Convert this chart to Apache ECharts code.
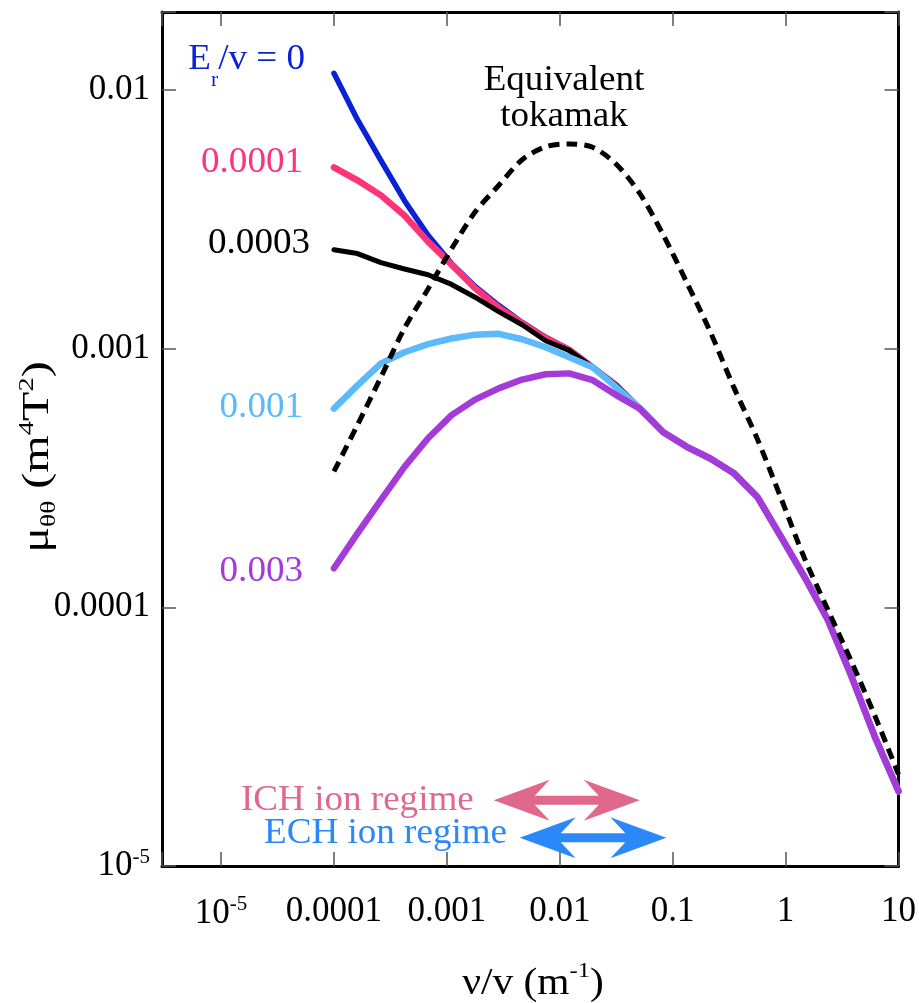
<!DOCTYPE html>
<html><head><meta charset="utf-8">
<script src="https://cdn.jsdelivr.net/npm/echarts@6/dist/echarts.min.js"></script>
<style>html,body{margin:0;padding:0;background:#fff}#c{width:919px;height:1003px}</style>
</head><body><div id="c"></div>
<script>
// collision frequency over speed, nu/v (m^-1)
const nu = [1e-4, 1.616e-4, 2.610e-4, 4.217e-4, 6.813e-4, 1.101e-3, 1.778e-3, 2.873e-3, 4.642e-3, 7.499e-3,
  0.01212, 0.01957, 0.03162, 0.05109, 0.08254, 0.1334, 0.2154, 0.3481, 0.5623, 0.9085,
  1.468, 2.371, 3.831, 6.190, 10];
// mu_thetatheta (m^4 T^2) for each E_r/v
const muEr0 = [1.159e-2, 7.67e-3, 5.33e-3, 3.73e-3, 2.74e-3, 2.13e-3, 1.74e-3, 1.47e-3, 1.262e-3, 1.106e-3,
  9.93e-4, 8.47e-4, 7.21e-4, 5.86e-4, 4.75e-4, 4.17e-4, 3.76e-4, 3.30e-4, 2.67e-4, 1.875e-4,
  1.312e-4, 8.93e-5, 5.41e-5, 3.15e-5, 1.945e-5];
const muEr00001 = [5.02e-3, 4.47e-3, 3.91e-3, 3.27e-3, 2.59e-3, 2.11e-3, 1.71e-3, 1.44e-3, 1.253e-3, 1.096e-3,
  9.89e-4, 8.47e-4, 7.21e-4, 5.86e-4, 4.75e-4, 4.17e-4, 3.76e-4, 3.30e-4, 2.67e-4, 1.875e-4,
  1.312e-4, 8.93e-5, 5.41e-5, 3.15e-5, 1.945e-5];
const muEr00003 = [2.41e-3, 2.33e-3, 2.15e-3, 2.03e-3, 1.93e-3, 1.77e-3, 1.58e-3, 1.39e-3, 1.236e-3, 1.072e-3,
  9.84e-4, 8.47e-4, 7.21e-4, 5.86e-4, 4.75e-4, 4.17e-4, 3.76e-4, 3.30e-4, 2.67e-4, 1.875e-4,
  1.312e-4, 8.93e-5, 5.41e-5, 3.15e-5, 1.945e-5];
const muEr0001 = [5.86e-4, 7.21e-4, 8.77e-4, 9.68e-4, 1.04e-3, 1.094e-3, 1.132e-3, 1.14e-3, 1.087e-3, 1.012e-3,
  9.26e-4, 8.47e-4, 7.10e-4, 5.89e-4, 4.75e-4, 4.17e-4, 3.76e-4, 3.30e-4, 2.67e-4, 1.875e-4,
  1.312e-4, 8.93e-5, 5.41e-5, 3.15e-5, 1.945e-5];
const muEr0003 = [1.416e-4, 1.93e-4, 2.60e-4, 3.49e-4, 4.50e-4, 5.53e-4, 6.35e-4, 7.02e-4, 7.59e-4, 7.96e-4,
  8.02e-4, 7.55e-4, 6.61e-4, 5.86e-4, 4.75e-4, 4.17e-4, 3.76e-4, 3.30e-4, 2.67e-4, 1.875e-4,
  1.312e-4, 8.93e-5, 5.41e-5, 3.15e-5, 1.945e-5];
const muTokamak = [3.35e-4, 5.07e-4, 7.76e-4, 1.20e-3, 1.70e-3, 2.43e-3, 3.37e-3, 4.27e-3, 5.37e-3, 6.03e-3,
  6.18e-3, 6.00e-3, 5.16e-3, 3.98e-3, 2.75e-3, 1.80e-3, 1.16e-3, 7.08e-4, 4.47e-4, 2.65e-4,
  1.55e-4, 9.77e-5, 6.17e-5, 3.80e-5, 2.26e-5];
// heating regimes: arrow tip positions in nu/v, and their heights
const ichRange = [2.60e-3, 5.11e-2];
const ichLevel = 1.795e-5;
const echRange = [4.42e-3, 8.79e-2];
const echLevel = 1.285e-5;
// tick labels (by decade exponent)
const xTickLabels = {'-5': '{b|10}{s|-5}', '-4': '0.0001', '-3': '0.001', '-2': '0.01', '-1': '0.1', '0': '1', '1': '10'};
const yTickLabels = {'-5': '{b|10}{s|-5}', '-4': '0.0001', '-3': '0.001', '-2': '0.01'};

const FONT = "'Liberation Serif','Times New Roman',serif";
const FS = 35;
const LFS = 36;
const supRich = {
  b: {fontFamily: FONT, fontSize: FS, color: '#000'},
  s: {fontFamily: FONT, fontSize: 21, color: '#000', verticalAlign: 'top', padding: [0, 0, 18, 0]}
};
function decadeFmt(map) {
  return function (v) {
    const l = Math.log10(v), r = Math.round(l);
    if (Math.abs(l - r) > 1e-6) return '';
    return map[String(r)] || '';
  };
}
const pair = arr => nu.map((x, i) => [x, arr[i]]);

const chart = echarts.init(document.getElementById('c'), null, {renderer: 'canvas'});
const tickStyle = {show: true, inside: true, length: 14, lineStyle: {color: '#555', width: 1.5}};
const axLine = {show: true, lineStyle: {color: '#000', width: 3}};
const xCommon = {type: 'log', logBase: 10, min: 3e-6, max: 10, splitLine: {show: false}, axisLine: axLine, axisTick: tickStyle};
const yCommon = {type: 'log', logBase: 10, min: 1e-5, max: 0.02, splitLine: {show: false}, axisLine: axLine, axisTick: tickStyle};

function lineSeries(name, arr, color, width, extra) {
  return Object.assign({
    name, type: 'line', data: pair(arr), showSymbol: false, symbol: 'none',
    lineStyle: {color, width, cap: 'round', join: 'round'}, itemStyle: {color},
    emphasis: {disabled: true}, silent: true, clip: true
  }, extra || {});
}

// double-headed arrow spanning [x0, x1] at height y, positioned through the axes
function arrowSeries(name, range, level, color) {
  return {
    name, type: 'custom', silent: true, clip: false, z: 5,
    encode: {x: [0, 1], y: 2},
    data: [[range[0], range[1], level]],
    renderItem: function (params, api) {
      const p0 = api.coord([api.value(0), api.value(2)]);
      const p1 = api.coord([api.value(1), api.value(2)]);
      const y = p0[1], a = p0[0], b = p1[0];
      const L = 56, W = 20.5, N = 41, S = 4.5;
      const pts = [[a, y], [a + L, y - W], [a + N, y - S], [b - N, y - S], [b - L, y - W], [b, y],
                   [b - L, y + W], [b - N, y + S], [a + N, y + S], [a + L, y + W]];
      return {type: 'polygon', shape: {points: pts}, style: {fill: color}};
    }
  };
}

function label(text, x, y, color, align) {
  return {type: 'text', x, y, scaleX: 1.03, style: {text, align: align || 'right', verticalAlign: 'middle',
    fontFamily: FONT, fontSize: LFS, fill: color}};
}

const option = {
  animation: false,
  backgroundColor: '#fff',
  grid: {left: 162, top: 12, width: 738, height: 854, containLabel: false},
  xAxis: [
    Object.assign({}, xCommon, {position: 'bottom',
      axisLabel: {margin: 28, fontFamily: FONT, fontSize: FS, color: '#000', formatter: decadeFmt(xTickLabels), rich: supRich}}),
    Object.assign({}, xCommon, {position: 'top', axisLabel: {show: false}})
  ],
  yAxis: [
    Object.assign({}, yCommon, {position: 'left',
      axisLabel: {margin: 12, fontFamily: FONT, fontSize: FS, color: '#000', formatter: decadeFmt(yTickLabels), rich: supRich}}),
    Object.assign({}, yCommon, {position: 'right', axisLabel: {show: false}})
  ],
  series: [
    lineSeries('E_r/v = 0', muEr0, '#0a22d6', 5.5),
    lineSeries('0.0001', muEr00001, '#fd3477', 6.5),
    lineSeries('0.0003', muEr00003, '#000000', 5),
    lineSeries('0.001', muEr0001, '#5cbafc', 6.5),
    lineSeries('0.003', muEr0003, '#a43bd9', 6.5),
    lineSeries('Equivalent tokamak', muTokamak, '#000000', 5, {
      smooth: 0.3,
      lineStyle: {color: '#000', width: 5, type: [11, 7], cap: 'butt'}
    }),
    arrowSeries('ICH ion regime', ichRange, ichLevel, '#e0688c'),
    arrowSeries('ECH ion regime', echRange, echLevel, '#2a88fa')
  ],
  graphic: [
    {type: 'text', x: 305, y: 60, scaleX: 1.03, style: {text: '{a|E}{r|r}{a|/v = 0}', align: 'right', verticalAlign: 'middle',
      rich: {a: {fontFamily: FONT, fontSize: LFS, fill: '#0a22d6'},
             r: {fontFamily: FONT, fontSize: 21, fill: '#0a22d6', verticalAlign: 'bottom', padding: [40, 0, 0, 0]}}}},
    label('0.0001', 303, 163, '#fd3477'),
    label('0.0003', 310, 244, '#000'),
    label('0.001', 303, 408, '#5cbafc'),
    label('0.003', 303, 572, '#a43bd9'),
    label('Equivalent', 564, 81, '#000', 'center'),
    label('tokamak', 564, 117, '#000', 'center'),
    label('ICH ion regime', 241, 801, '#e0688c', 'left'),
    label('ECH ion regime', 264, 834, '#2a88fa', 'left'),
    {type: 'text', x: 533, y: 984, scaleX: 1.12, style: {text: '{a|\u03bd/v (m}{s|-1}{a|)}', align: 'center', verticalAlign: 'middle',
      rich: {a: {fontFamily: FONT, fontSize: 37, fill: '#000'},
             s: {fontFamily: FONT, fontSize: 22, fill: '#000', verticalAlign: 'top', padding: [0, 0, 26, 0]}}}},
    {type: 'text', x: 38, y: 457, rotation: Math.PI / 2, scaleX: 1.3, style: {text: '{a|\u03bc}{u|\u03b8\u03b8}{a| (m}{s|4}{a|T}{s|2}{a|)}', align: 'center', verticalAlign: 'middle',
      rich: {a: {fontFamily: FONT, fontSize: 37, fill: '#000'},
             u: {fontFamily: FONT, fontSize: 21, fill: '#000', verticalAlign: 'bottom', padding: [14, 0, 0, 0]},
             s: {fontFamily: FONT, fontSize: 22, fill: '#000', verticalAlign: 'top', padding: [0, 0, 22, 0]}}}}
  ]
};
chart.setOption(option);
</script>
</body></html>
